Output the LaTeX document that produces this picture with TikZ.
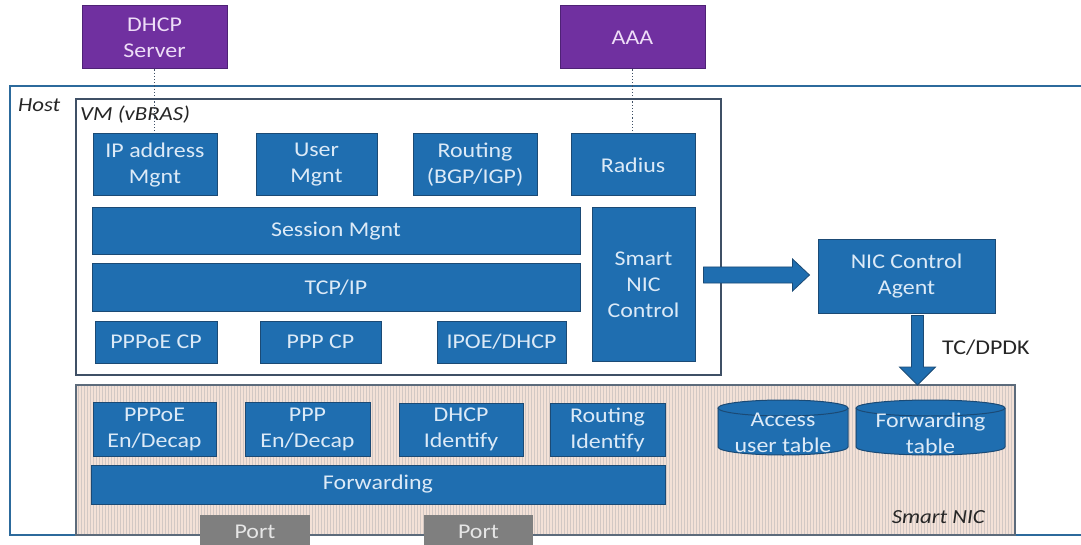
\documentclass[tikz,border=0pt]{standalone}
\usepackage{fontspec}
\setmainfont{Carlito}[FakeStretch=1.14]
\usetikzlibrary{calc,patterns}

\definecolor{boxblue}{HTML}{1F6EB0}
\definecolor{boxedge}{HTML}{1B4A75}
\definecolor{boxtext}{HTML}{DCEAF7}
\definecolor{srvpurple}{HTML}{7030A0}
\definecolor{srvedge}{HTML}{4E2275}
\definecolor{srvtext}{HTML}{EEDDF7}
\definecolor{hostline}{HTML}{2C6A9C}
\definecolor{vmline}{HTML}{3F5066}
\definecolor{nicline}{HTML}{5C6B7B}
\definecolor{nicfill}{HTML}{F3E1D7}
\definecolor{nicstripe}{HTML}{D2C8C4}
\definecolor{portgray}{HTML}{7F7F7F}
\definecolor{porttext}{HTML}{E6E6E6}

\tikzset{
  txt/.style={font=\fontsize{21}{26}\selectfont},
  blk/.style={txt, draw=boxedge, fill=boxblue, text=boxtext, line width=1pt,
              inner sep=0pt, align=center},
  srv/.style={txt, draw=srvedge, fill=srvpurple, text=srvtext, line width=1pt,
              inner sep=0pt, align=center},
  portbox/.style={txt, fill=portgray, text=porttext, inner sep=0pt},
  ital/.style={font=\fontsize{20}{24}\selectfont\itshape, text=black!85, inner sep=0pt},
  dotlink/.style={draw=vmline, line width=1.2pt, dotted},
  blkarrow/.style={draw=boxedge, fill=boxblue, line width=0.8pt, line join=miter},
  cylfill/.style={fill=boxblue},
  cyledge/.style={draw=boxedge, line width=1pt},
}

\begin{document}
\begin{tikzpicture}[x=1pt,y=-1pt]
\useasboundingbox (0,0) rectangle (1081,545);
\fill[white] (0,0) rectangle (1081,545);

% host outline, open to the right
\draw[hostline, line width=1.3pt] (1085,86) -- (10,86) -- (10,535) -- (1085,535);
\node[ital, anchor=west] (hostlbl) at (18,105) {Host};

% virtual machine frame
\draw[vmline, line width=1.8pt] (76,99) rectangle (721,375);
\node[ital, anchor=west] (vmlbl) at (80,115) {VM (vBRAS)};

% smart NIC frame with striped fill
\fill[nicfill] (76,385) rectangle (1015,535);
\fill[pattern=vertical lines, pattern color=nicstripe] (76,385) rectangle (1015,535);
\draw[nicline, line width=1.8pt] (76,385) rectangle (1015,535);
\node[ital, anchor=east] (niclbl) at (985,517) {Smart NIC};

% external servers
\node[srv, minimum width=145, minimum height=63] (dhcp) at (154.5,37.5) {DHCP\\Server};
\node[srv, minimum width=145, minimum height=63] (aaa) at (632.5,37.5) {AAA};

% control plane inside the VM
\node[blk, minimum width=124, minimum height=62] (ipm) at (155,165) {IP address\\Mgnt};
\node[blk, minimum width=121, minimum height=62] (usr) at (316.5,165) {User\\Mgnt};
\node[blk, minimum width=124, minimum height=62] (rtg) at (475,165) {Routing\\(BGP/IGP)};
\node[blk, minimum width=124, minimum height=62] (rad) at (633,165) {Radius};
\node[blk, minimum width=488, minimum height=47] (sess) at (336,231.5) {Session Mgnt};
\node[blk, minimum width=488, minimum height=47] (tcp) at (336,287.5) {TCP/IP};
\node[blk, minimum width=122, minimum height=42] (pppoecp) at (156,342) {PPPoE CP};
\node[blk, minimum width=121, minimum height=42] (pppcp) at (320.5,342) {PPP CP};
\node[blk, minimum width=129, minimum height=42] (ipoe) at (501.5,342) {IPOE/DHCP};
\node[blk, minimum width=103, minimum height=153] (snc) at (643.5,284.5) {Smart\\NIC\\Control};

% agent on the host
\node[blk, minimum width=177, minimum height=73] (agent) at (906.5,276.5) {NIC Control\\Agent};

% data plane on the smart NIC
\node[blk, minimum width=123, minimum height=54] (pppoeenc) at (154.5,429) {PPPoE\\En/Decap};
\node[blk, minimum width=125, minimum height=54] (pppenc) at (307.5,429) {PPP\\En/Decap};
\node[blk, minimum width=124, minimum height=53] (dhcpid) at (461,429.5) {DHCP\\Identify};
\node[blk, minimum width=115, minimum height=53] (rtid) at (607.5,429.5) {Routing\\Identify};
\node[blk, minimum width=574, minimum height=39] (fwd) at (378,484.5) {Forwarding};

% tables drawn as cylinders
\foreach \nm/\xa/\xb in {acc/718/848, ftb/856/1005}{
  \pgfmathsetmacro{\cx}{(\xa+\xb)/2}
  \pgfmathsetmacro{\rx}{(\xb-\xa)/2}
  \fill[cylfill] (\xa,408) rectangle (\xb,447);
  \fill[cylfill] (\cx,447) ellipse[x radius=\rx, y radius=8];
  \draw[cyledge] (\xa,408) -- (\xa,447) arc[start angle=180, end angle=0, x radius=\rx, y radius=8] -- (\xb,408);
  \draw[cyledge, fill=boxblue] (\cx,408) ellipse[x radius=\rx, y radius=8];
}
\node[txt, text=boxtext, align=center, inner sep=0pt] (acc) at (783,433) {Access\\user table};
\node[txt, text=boxtext, align=center, inner sep=0pt] (ftb) at (930.5,433) {Forwarding\\table};

% ports on the lower edge
\node[portbox, minimum width=110, minimum height=34] (port1) at (255,532) {Port};
\node[portbox, minimum width=109, minimum height=34] (port2) at (478.5,532) {Port};

% dotted links to the external servers
\draw[dotlink] (dhcp.south) -- (dhcp.south |- ipm.north);
\draw[dotlink] (aaa.south) -- (aaa.south |- rad.north);

% block arrow: Smart NIC Control -> NIC Control Agent
\coordinate (ra) at ($(snc.east |- agent.west)+(8,-1.5)$);
\coordinate (rb) at ($(agent.west)+(-8,-1.5)$);
\draw[blkarrow] ($(ra)+(0,-8)$) -- ($(rb)+(-17,-8)$) -- ($(rb)+(-17,-16)$) -- (rb)
  -- ($(rb)+(-17,16)$) -- ($(rb)+(-17,8)$) -- ($(ra)+(0,8)$) -- cycle;

% block arrow: NIC Control Agent -> Smart NIC (TC/DPDK)
\coordinate (nictop) at (917.5,385);
\coordinate (da) at ($(agent.south)+(11,2)$);
\coordinate (db) at (nictop);
\draw[blkarrow] ($(da)+(-6,0)$) -- ($(db)+(-6,-18)$) -- ($(db)+(-18,-18)$) -- (db)
  -- ($(db)+(18,-18)$) -- ($(db)+(6,-18)$) -- ($(da)+(6,0)$) -- cycle;
\node[txt, text=black!85, anchor=west, inner sep=0pt] (tcdpdk) at (942,348) {TC/DPDK};
\end{tikzpicture}
\end{document}
